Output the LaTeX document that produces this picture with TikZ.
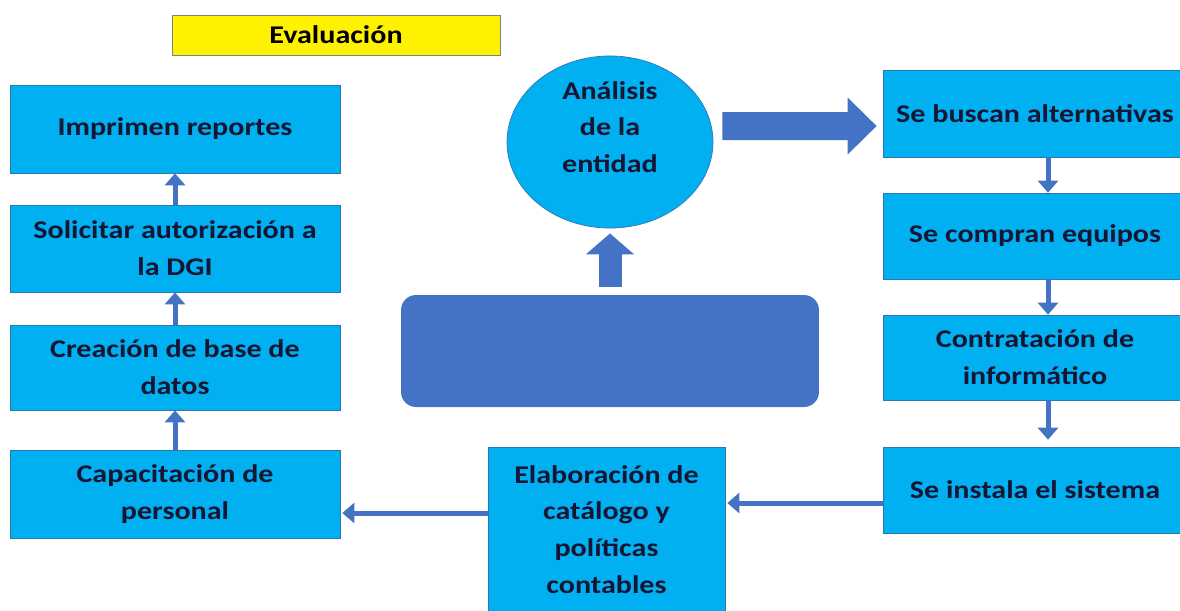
\documentclass[tikz,border=0pt]{standalone}
\usepackage{fontspec}
\setmainfont{Carlito}[FakeStretch=1.18]
\usetikzlibrary{arrows.meta,shapes.geometric,calc}
\definecolor{boxcyan}{HTML}{00B0F0}
\definecolor{boxedge}{HTML}{2E75B6}
\definecolor{flowblue}{HTML}{4472C4}
\definecolor{inktext}{HTML}{161634}

\begin{document}
\begin{tikzpicture}[x=0.02cm,y=-0.02cm,
    font=\fontsize{14.5}{21}\selectfont\bfseries,
    stepbox/.style={draw=boxedge,fill=boxcyan,text=inktext,align=center,inner sep=0pt},
    thin arrow/.style={draw=flowblue,line width=0.1cm,-{Triangle[width=0.4cm,length=0.24cm]}},
    big arrow/.style={draw=flowblue}]
\useasboundingbox[fill=white] (0,0) rectangle (1180,610);
\node[draw=gray,fill=yellow,text=black,minimum width=6.56cm,minimum height=0.8cm,inner sep=0pt] (eval) at (336,35) {Evaluación};
% left column
\node[stepbox,minimum width=6.6cm,minimum height=1.76cm] (imprimen) at (175,129) {Imprimen reportes};
\node[stepbox,minimum width=6.6cm,minimum height=1.74cm] (solicitar) at (175,248.5) {Solicitar autorización a\\la DGI};
\node[stepbox,minimum width=6.6cm,minimum height=1.7cm] (creacion) at (175,367.5) {Creación de base de\\datos};
\node[stepbox,minimum width=6.6cm,minimum height=1.76cm] (capacita) at (175,494) {Capacitación de\\personal};
% middle
\node[ellipse,draw=boxedge,fill=boxcyan,text=inktext,align=center,inner sep=0pt,
      minimum width=4.12cm,minimum height=3.4cm,text depth=0.6cm] (circ) at (610,142) {Análisis\\de la\\entidad};
\node[fill=flowblue,rounded corners=0.3cm,minimum width=8.36cm,minimum height=2.24cm] (base) at (610,351) {};
\node[stepbox,minimum width=4.74cm,minimum height=3.3cm] (elab) at (606.5,529.5) {Elaboración de\\catálogo y\\políticas\\contables};
% right column
\node[stepbox,minimum width=6.08cm,minimum height=1.74cm] (busca) at (1035,113.5) {Se buscan alternativas};
\node[stepbox,minimum width=6.08cm,minimum height=1.72cm] (compran) at (1035,236) {Se compran equipos};
\node[stepbox,minimum width=6.08cm,minimum height=1.7cm] (contrata) at (1035,357.5) {Contratación de\\informático};
\node[stepbox,minimum width=6.08cm,minimum height=1.72cm] (instala) at (1035,490) {Se instala el sistema};

\draw[big arrow,line width=0.56cm,-{Triangle[width=1.1cm,length=0.58cm]},shorten <=0.18cm,shorten >=0.12cm]
  ($(circ.east)+(0,-16)$) -- ($(busca.west)+(0,12.5)$);
\draw[big arrow,line width=0.46cm,-{Triangle[width=0.94cm,length=0.42cm]},shorten <=0.16cm,shorten >=0.1cm]
  (base.north) -- (circ.south);

\draw[thin arrow] (busca.south -| 1048,0) -- (compran.north -| 1048,0);
\draw[thin arrow] (compran.south -| 1048,0) -- (contrata.north -| 1048,0);
\draw[thin arrow,shorten >=0.14cm] (contrata.south -| 1048,0) -- (instala.north -| 1048,0);
\draw[thin arrow,shorten >=0.04cm] (instala.west |- 0,503) -- (elab.east |- 0,503);
\draw[thin arrow,shorten >=0.04cm] (elab.west |- 0,513) -- (capacita.east |- 0,513);
\draw[thin arrow] (capacita) -- (creacion);
\draw[thin arrow] (creacion) -- (solicitar);
\draw[thin arrow] (solicitar) -- (imprimen);
\end{tikzpicture}
\end{document}
